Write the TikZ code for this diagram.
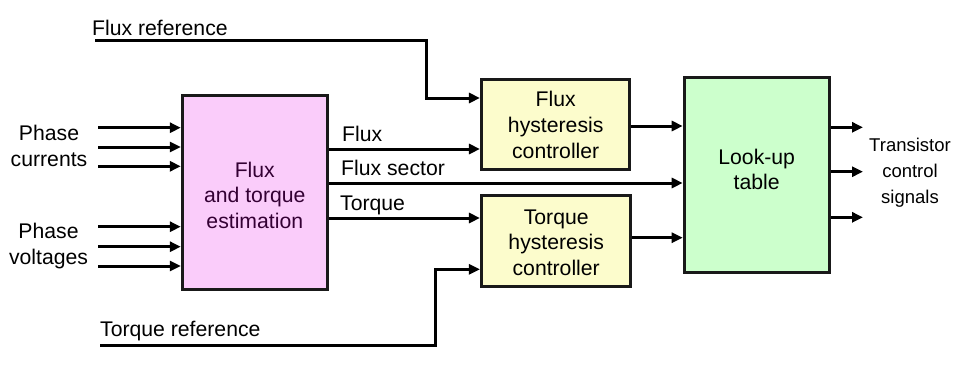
\documentclass[tikz,border=0pt]{standalone}
\usepackage{fontspec}
\setmainfont{Liberation Sans}
\usetikzlibrary{arrows.meta}
\definecolor{pinkfill}{RGB}{250,204,250}
\definecolor{yellowfill}{RGB}{252,252,204}
\definecolor{greenfill}{RGB}{204,255,204}
\definecolor{purpletext}{RGB}{51,0,51}
\begin{document}
\begin{tikzpicture}[x=1pt,y=-1pt,
  blk/.style={draw=black!90,line width=3pt,rectangle,inner sep=0pt},
  boxtext/.style={align=center,inner sep=0pt,font=\fontsize{21.2}{25.8}\selectfont},
  lbl/.style={inner sep=0pt,anchor=base west,font=\fontsize{21.2}{25.8}\selectfont},
  arr/.style={line width=3pt,-{Triangle[length=11pt,width=10pt]}},
  ln/.style={line width=3pt}]
\useasboundingbox (0,0) rectangle (960,375);
\fill[white] (0,0) rectangle (960,375);

% blocks
\node[blk,fill=pinkfill,minimum width=145pt,minimum height=194pt] (est) at (254.8,192.2) {};
\node[blk,fill=yellowfill,minimum width=148.5pt,minimum height=90pt] (fh) at (555.7,124.2) {};
\node[blk,fill=yellowfill,minimum width=149.5pt,minimum height=91pt] (th) at (556.2,241.2) {};
\node[blk,fill=greenfill,minimum width=145pt,minimum height=194.7pt] (lut) at (756.7,175.2) {};

% block texts
\node[boxtext,text=purpletext] (estT) at (254.8,195.4) {Flux\\and torque\\estimation};
\node[boxtext] (fhT) at (555.7,124.7) {Flux\\hysteresis\\controller};
\node[boxtext] (thT) at (556.2,242.7) {Torque\\hysteresis\\controller};
\node[boxtext] (lutT) at (756.7,169.5) {Look-up\\table};

% side labels
\node[boxtext] (pcT) at (49,145.9) {Phase\\currents};
\node[boxtext] (pvT) at (48.5,246.3) {Phase\\voltages};
\node[boxtext,font=\fontsize{18.5}{25.8}\selectfont] (tcT) at (910,172.6) {Transistor\\control\\signals};

\node[lbl] (frT) at (92,35) {Flux reference};
\node[lbl] (trT) at (100,336.7) {Torque reference};
\node[lbl] (fluxT) at (342,141.7) {Flux};
\node[lbl] (fsT) at (341,175.7) {Flux sector};
\node[lbl] (tqT) at (340,210.7) {Torque};

% input free ends
\coordinate (pc1) at (98,127.7);
\coordinate (pc2) at (98,147);
\coordinate (pc3) at (98,166.3);
\coordinate (pv1) at (98,226.7);
\coordinate (pv2) at (98,246.7);
\coordinate (pv3) at (98,266);
\foreach \c in {pc1,pc2,pc3,pv1,pv2,pv3}
  \draw[arr] (\c) -- (est.west |- \c);

% flux reference
\coordinate (fr0) at (95,40.7);
\coordinate (frc) at (426,40.7);
\coordinate (fry) at (426,98);
\draw[arr,line join=miter] (fr0) -- (frc) -- (fry) -- (fh.west |- fry);

% torque reference
\coordinate (tr0) at (100,345.3);
\coordinate (trc) at (435,345.3);
\coordinate (try) at (435,269.3);
\draw[arr,line join=miter] (tr0) -- (trc) -- (try) -- (th.west |- try);

% estimator outputs
\coordinate (fluxy) at (0,149);
\coordinate (fsy) at (0,183);
\coordinate (tqy) at (0,218);
\draw[arr] (est.east |- fluxy) -- (fh.west |- fluxy);
\draw[arr] (est.east |- fsy) -- (lut.west |- fsy);
\draw[arr] (est.east |- tqy) -- (th.west |- tqy);

% controllers to LUT
\coordinate (fhy) at (0,126);
\coordinate (thy) at (0,237.7);
\draw[arr] (fh.east |- fhy) -- (lut.west |- fhy);
\draw[arr] (th.east |- thy) -- (lut.west |- thy);

% outputs
\coordinate (o1) at (863,127.3);
\coordinate (o2) at (863,171.7);
\coordinate (o3) at (863,217.3);
\foreach \c in {o1,o2,o3}
  \draw[arr] (lut.east |- \c) -- (\c);
\end{tikzpicture}
\end{document}
